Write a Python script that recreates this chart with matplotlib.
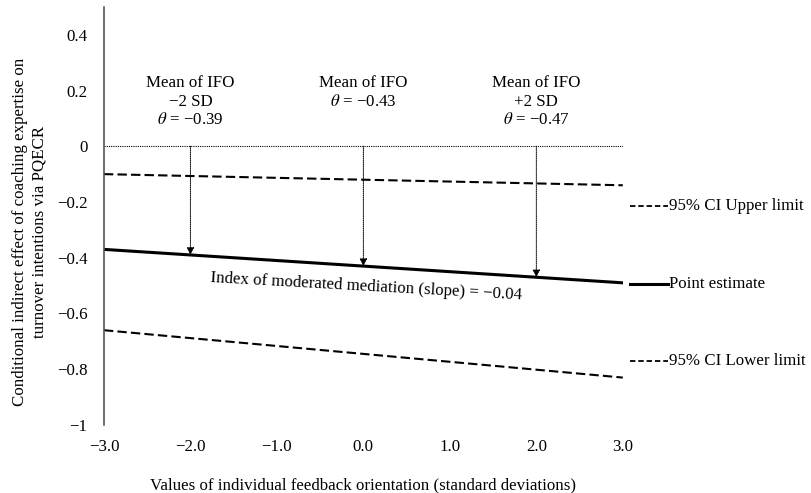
import matplotlib
matplotlib.use("Agg")
import matplotlib.pyplot as plt
import numpy as np

plt.rcParams['font.family'] = ['Liberation Serif', 'DejaVu Serif']
plt.rcParams['mathtext.fontset'] = 'stix'

x_vals = [-3.0, 3.0]
upper_ci = [-0.10, -0.14]
point_est = [-0.37, -0.49]
lower_ci = [-0.66, -0.83]

probe_x = [-2.0, 0.0, 2.0]
probe_y = [-0.39, -0.43, -0.47]
probe_labels = ["Mean of IFO\n\u22122 SD\n$\\theta$ = \u22120.39",
                "Mean of IFO\n$\\theta$ = \u22120.43",
                "Mean of IFO\n+2 SD\n$\\theta$ = \u22120.47"]

xticks = [-3.0, -2.0, -1.0, 0.0, 1.0, 2.0, 3.0]
yticks = [0.4, 0.2, 0, -0.2, -0.4, -0.6, -0.8, -1]
ytick_labels = ["0.4", "0.2", "0", "\u22120.2", "\u22120.4", "\u22120.6", "\u22120.8", "\u22121"]
xtick_labels = ["\u22123.0", "\u22122.0", "\u22121.0", "0.0", "1.0", "2.0", "3.0"]

fig = plt.figure(figsize=(8.12, 4.93), dpi=100)
ax = fig.add_axes([0.128, 0.138, 0.639, 0.848])
ax.set_xlim(-3.0, 3.0)
ax.set_ylim(-1.0, 0.5)

fs = 12.2
ax.axhline(0, color='black', lw=0.8, ls=(0, (1, 1)))
ax.plot(x_vals, upper_ci, color='black', lw=1.5, ls=(0, (4.5, 2)))
ax.plot(x_vals, point_est, color='black', lw=2.2)
ax.plot(x_vals, lower_ci, color='black', lw=1.5, ls=(0, (4.5, 2)))

for px, py in zip(probe_x, probe_y):
    ax.annotate("", xy=(px, py), xytext=(px, 0),
                arrowprops=dict(arrowstyle="-|>", color='black', lw=0.7,
                                ls=(0, (1, 1)), mutation_scale=11,
                                shrinkA=0, shrinkB=0))

for px, lbl in zip(probe_x, probe_labels):
    ax.text(px, 0.255, lbl, ha='center', va='top', fontsize=fs, linespacing=1.2)

ax.text(0.03, -0.505, "Index of moderated mediation (slope) = \u22120.04", ha='center', va='center',
        fontsize=fs, rotation=-3.2, rotation_mode='anchor')

# right-side labels
for yv, lbl, ls_, lw_ in [(-0.214, "95% CI Upper limit", (0, (3, 1.6)), 1.3),
                          (-0.493, "Point estimate", '-', 2.2),
                          (-0.771, "95% CI Lower limit", (0, (3, 1.6)), 1.3)]:
    ax.plot([3.08, 3.52], [yv, yv], color='black', lw=lw_, ls=ls_, clip_on=False)
    ax.text(3.53, yv, lbl, ha='left', va='center', fontsize=fs)

ax.set_xticks(xticks)
ax.set_xticklabels(xtick_labels)
ax.set_yticks(yticks)
ax.set_yticklabels(ytick_labels)
ax.tick_params(axis='both', length=0, labelsize=fs)
ax.tick_params(axis='x', pad=10)
ax.tick_params(axis='y', pad=12)
for s in ['top', 'right', 'bottom']:
    ax.spines[s].set_visible(False)
ax.spines['left'].set_color('#555555')
ax.spines['left'].set_linewidth(1.2)

ax.set_xlabel("Values of individual feedback orientation (standard deviations)", fontsize=fs, labelpad=16)
ax.set_ylabel("Conditional indirect effect of coaching expertise on\nturnover intentions via PQECR",
              fontsize=fs, linespacing=1.3)
ax.yaxis.set_label_coords(-0.108, 0.462)

fig.savefig("out.png", dpi=100)
